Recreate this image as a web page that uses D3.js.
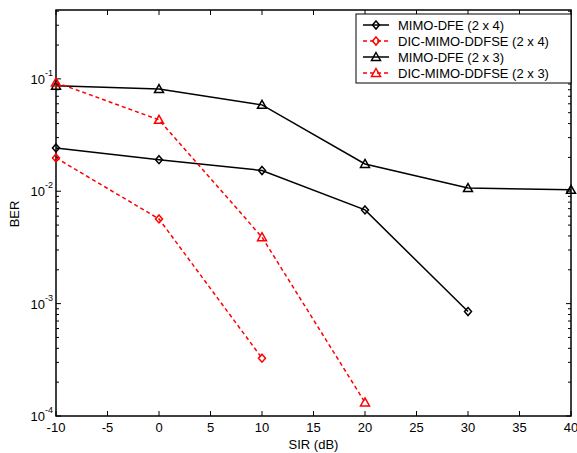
<!DOCTYPE html>
<html>
<head>
<meta charset="utf-8">
<script src="https://cdn.jsdelivr.net/npm/d3@7"></script>
<style>
  body { margin: 0; background: #fff; }
  text { font-family: "Liberation Sans", Arial, sans-serif; }
</style>
</head>
<body>
<div id="chart"></div>
<script>
// SIR values (dB) on the x axis
var sir = [-10, 0, 10, 20, 30, 40];

// BER curves
var dfe24 = [0.0243, 0.0191, 0.0153, 0.00682, 0.00085];
var ddfse24 = [0.0198, 0.00567, 0.000327];
var dfe23 = [0.0869, 0.0811, 0.0587, 0.0175, 0.01067, 0.01029];
var ddfse23 = [0.0929, 0.0432, 0.0039, 0.000132];

var seriesNames = ['MIMO-DFE (2 x 4)', 'DIC-MIMO-DDFSE (2 x 4)', 'MIMO-DFE (2 x 3)', 'DIC-MIMO-DDFSE (2 x 3)'];
var xTicks = [-10, -5, 0, 5, 10, 15, 20, 25, 30, 35, 40];
var yTicks = [1e-4, 1e-3, 1e-2, 1e-1];
var yExp = ['-4', '-3', '-2', '-1'];

var series = [
    {name: seriesNames[0], values: dfe24, color: 'black', dash: null, marker: 'diamond'},
    {name: seriesNames[1], values: ddfse24, color: 'red', dash: '4,3', marker: 'diamond'},
    {name: seriesNames[2], values: dfe23, color: 'black', dash: null, marker: 'triangle'},
    {name: seriesNames[3], values: ddfse23, color: 'red', dash: '4,3', marker: 'triangle'}
];

// plot box edges (window.top is reserved, so prefixed names)
var pLeft = 56, pRight = 571, pTop = 10, pBottom = 416;

var svg = d3.select('#chart').append('svg')
    .attr('width', 577)
    .attr('height', 453);

svg.append('rect')
    .attr('width', 577)
    .attr('height', 453)
    .attr('fill', 'white');

var x = d3.scaleLinear().domain([-10, 40]).range([pLeft, pRight]);
var y = d3.scaleLog().domain([1e-4, 0.41]).range([pBottom, pTop]);

// minor log ticks
var minor = [];
[1e-4, 1e-3, 1e-2, 1e-1].forEach(function(d) {
    for (var k = 2; k <= 9; k++) {
        if (d * k <= 0.41) minor.push(d * k);
    }
});

var axes = svg.append('g');

// ticks on all four sides, pointing inwards
xTicks.forEach(function(t) {
    axes.append('line')
        .attr('x1', x(t)).attr('x2', x(t))
        .attr('y1', pBottom).attr('y2', pBottom - 5)
        .attr('stroke', 'black').attr('stroke-width', 1);
    axes.append('line')
        .attr('x1', x(t)).attr('x2', x(t))
        .attr('y1', pTop).attr('y2', pTop + 5)
        .attr('stroke', 'black').attr('stroke-width', 1);
    axes.append('text')
        .attr('x', x(t))
        .attr('y', 432)
        .attr('text-anchor', 'middle')
        .attr('font-size', 13)
        .text(t);
});

yTicks.forEach(function(t, i) {
    axes.append('line')
        .attr('x1', pLeft).attr('x2', pLeft + 5)
        .attr('y1', y(t)).attr('y2', y(t))
        .attr('stroke', 'black').attr('stroke-width', 1);
    axes.append('line')
        .attr('x1', pRight).attr('x2', pRight - 5)
        .attr('y1', y(t)).attr('y2', y(t))
        .attr('stroke', 'black').attr('stroke-width', 1);
    var lab = axes.append('text')
        .attr('x', 53)
        .attr('y', y(t) + 5)
        .attr('text-anchor', 'end')
        .attr('font-size', 13);
    lab.append('tspan').text('10');
    lab.append('tspan')
        .attr('dy', -8)
        .attr('font-size', 9)
        .text(yExp[i]);
});

minor.forEach(function(t) {
    axes.append('line')
        .attr('x1', pLeft).attr('x2', pLeft + 3)
        .attr('y1', y(t)).attr('y2', y(t))
        .attr('stroke', 'black').attr('stroke-width', 1);
    axes.append('line')
        .attr('x1', pRight).attr('x2', pRight - 3)
        .attr('y1', y(t)).attr('y2', y(t))
        .attr('stroke', 'black').attr('stroke-width', 1);
});

axes.append('rect')
    .attr('x', pLeft).attr('y', pTop)
    .attr('width', pRight - pLeft).attr('height', pBottom - pTop)
    .attr('fill', 'none')
    .attr('stroke', 'black')
    .attr('stroke-width', 1.5);

svg.append('text')
    .attr('x', (pLeft + pRight) / 2)
    .attr('y', 449)
    .attr('text-anchor', 'middle')
    .attr('font-size', 13)
    .text('SIR (dB)');

svg.append('text')
    .attr('transform', 'translate(19, 214) rotate(-90)')
    .attr('text-anchor', 'middle')
    .attr('font-size', 13)
    .text('BER');

function drawMarker(g, kind, cx, cy, color) {
    if (kind == 'diamond') {
        g.append('path')
            .attr('d', 'M' + cx + ',' + (cy - 4) + 'L' + (cx + 3.5) + ',' + cy + 'L' + cx + ',' + (cy + 4) + 'L' + (cx - 3.5) + ',' + cy + 'Z')
            .attr('fill', 'none').attr('stroke', color).attr('stroke-width', 1.5);
    } else {
        g.append('path')
            .attr('d', 'M' + cx + ',' + (cy - 4.5) + 'L' + (cx + 4.5) + ',' + (cy + 3.5) + 'L' + (cx - 4.5) + ',' + (cy + 3.5) + 'Z')
            .attr('fill', 'none').attr('stroke', color).attr('stroke-width', 1.5);
    }
}

var line = d3.line()
    .x(function(d, i) { return x(sir[i]); })
    .y(function(d) { return y(d); });

var plot = svg.append('g');
series.forEach(function(s) {
    plot.append('path')
        .datum(s.values)
        .attr('d', line)
        .attr('fill', 'none')
        .attr('stroke', s.color)
        .attr('stroke-width', 1.5)
        .attr('stroke-dasharray', s.dash);
    s.values.forEach(function(v, i) {
        drawMarker(plot, s.marker, x(sir[i]), y(v), s.color);
    });
});

// legend
var leg = svg.append('g');
leg.append('rect')
    .attr('x', 356).attr('y', 14)
    .attr('width', 215).attr('height', 69)
    .attr('fill', 'white')
    .attr('stroke', 'black')
    .attr('stroke-width', 1);

series.forEach(function(s, i) {
    var cy = 25 + i * 16;
    leg.append('line')
        .attr('x1', 363).attr('x2', 389)
        .attr('y1', cy).attr('y2', cy)
        .attr('stroke', s.color)
        .attr('stroke-width', 1.5)
        .attr('stroke-dasharray', s.dash);
    drawMarker(leg, s.marker, 376, cy, s.color);
    leg.append('text')
        .attr('x', 398)
        .attr('y', cy + 5)
        .attr('font-size', 13)
        .text(s.name);
});
</script>
</body>
</html>
